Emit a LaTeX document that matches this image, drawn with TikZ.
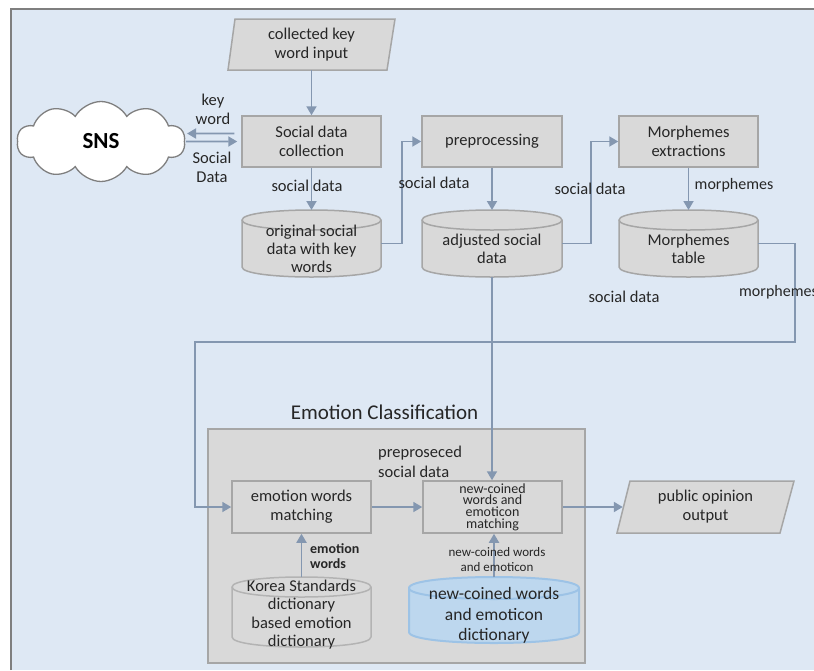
\documentclass[tikz,border=0pt]{standalone}
\usepackage{fontspec}
\setmainfont{Carlito}
\usetikzlibrary{shapes.symbols,arrows.meta,calc}
\definecolor{bg}{HTML}{DEE8F4}
\definecolor{frm}{HTML}{7F7F7F}
\definecolor{boxf}{HTML}{D9D9D9}
\definecolor{boxd}{HTML}{A6A6A6}
\definecolor{arrc}{HTML}{8497B0}
\definecolor{txt}{HTML}{262626}
\definecolor{bluef}{HTML}{BDD7EE}
\definecolor{blued}{HTML}{9DC3E6}
\newcommand\fmain{\fontsize{16.5}{19}\selectfont}
\newcommand\dbcyl[6]{%
\pgfmathsetmacro\cyLx{#2-#5/2}%
\pgfmathsetmacro\cyRx{#2+#5/2}%
\pgfmathsetmacro\cyA{#3+#6}%
\pgfmathsetmacro\cyB{#4-#6}%
\pgfmathsetmacro\cyAu{#3+#6-4/3*#6}%
\pgfmathsetmacro\cyAd{#3+#6+4/3*#6}%
\pgfmathsetmacro\cyBd{#4-#6+4/3*#6}%
\pgfmathsetmacro\cyM{(#3+#4)/2}%
\pgfmathsetmacro\cyH{#4-#3}%
}
\begin{document}
\begin{tikzpicture}[x=1pt,y=-1pt,
  proc/.style={draw=boxd, fill=boxf, line width=1.5pt, minimum width=139pt, minimum height=51pt, inner sep=0pt, text=txt, align=center, font=\fmain},
  lbl/.style={text=txt, font=\fmain, align=center, inner sep=0pt},
  ghost/.style={inner sep=0pt, outer sep=0pt},
  pg/.style={draw=boxd, fill=boxf, line width=1.5pt},
  cylg/.style={draw=boxd, fill=boxf, line width=1.5pt},
  arr/.style={draw=arrc, line width=1.8pt, -{Triangle[length=9pt,width=10pt]}},
  ln/.style={draw=arrc, line width=1.8pt}
]
\useasboundingbox (0,0) rectangle (814,670);
\fill[bg] (11,9) rectangle (814,670);
\draw[frm, line width=2pt] (11,670) -- (11,9) -- (814,9);

% input parallelogram
\draw[pg] (235,19) -- (395,19) -- (387,70) -- (228,70) -- cycle;
\node[lbl, minimum width=150pt, minimum height=51pt] (inp) at (311.5,44.5) {collected key\\word input};

% cloud
\node[cloud, cloud puffs=10, cloud puff arc=120, aspect=2.1, minimum width=168pt, minimum height=80pt, fill=white, draw=frm, line width=1.3pt, inner sep=0pt, font=\bfseries\fontsize{23}{26}\selectfont, text=black] (sns) at (101,141.5) {SNS};

% process boxes
\node[proc] (sdc) at (311.5,141.5) {Social data\\collection};
\node[proc, minimum width=140pt] (prep) at (492,141.5) {preprocessing};
\node[proc] (morph) at (688.5,141.5) {Morphemes\\extractions};

% cylinders top row
\dbcyl{cyl1}{311.5}{210}{277}{139}{10}
\path[cylg] (\cyLx,\cyA) -- (\cyLx,\cyB) .. controls (\cyLx,\cyBd) and (\cyRx,\cyBd) .. (\cyRx,\cyB) -- (\cyRx,\cyA) .. controls (\cyRx,\cyAu) and (\cyLx,\cyAu) .. (\cyLx,\cyA) -- cycle;
\path[cylg, fill=none] (\cyLx,\cyA) .. controls (\cyLx,\cyAd) and (\cyRx,\cyAd) .. (\cyRx,\cyA);
\node[ghost, minimum width=139pt, minimum height=\cyH pt] (cyl1) at (311.5,\cyM) {};
\node[lbl, font=\fontsize{16.5}{18}\selectfont] (cyl1t) at (311.5,249) {original social\\data with key\\words};

\dbcyl{cyl2}{492}{210}{277}{140}{10}
\path[cylg] (\cyLx,\cyA) -- (\cyLx,\cyB) .. controls (\cyLx,\cyBd) and (\cyRx,\cyBd) .. (\cyRx,\cyB) -- (\cyRx,\cyA) .. controls (\cyRx,\cyAu) and (\cyLx,\cyAu) .. (\cyLx,\cyA) -- cycle;
\path[cylg, fill=none] (\cyLx,\cyA) .. controls (\cyLx,\cyAd) and (\cyRx,\cyAd) .. (\cyRx,\cyA);
\node[ghost, minimum width=140pt, minimum height=\cyH pt] (cyl2) at (492,\cyM) {};
\node[lbl, font=\fontsize{16.5}{18}\selectfont] (cyl2t) at (492,249) {adjusted social\\data};

\dbcyl{cyl3}{688.5}{210}{277}{139}{10}
\path[cylg] (\cyLx,\cyA) -- (\cyLx,\cyB) .. controls (\cyLx,\cyBd) and (\cyRx,\cyBd) .. (\cyRx,\cyB) -- (\cyRx,\cyA) .. controls (\cyRx,\cyAu) and (\cyLx,\cyAu) .. (\cyLx,\cyA) -- cycle;
\path[cylg, fill=none] (\cyLx,\cyA) .. controls (\cyLx,\cyAd) and (\cyRx,\cyAd) .. (\cyRx,\cyA);
\node[ghost, minimum width=139pt, minimum height=\cyH pt] (cyl3) at (688.5,\cyM) {};
\node[lbl, font=\fontsize{16.5}{18}\selectfont] (cyl3t) at (688.5,249) {Morphemes\\table};

% group
\node[draw=boxd, fill=boxf, line width=2pt, minimum width=377pt, minimum height=234pt, inner sep=0pt] (grp) at (396.5,546) {};
\node[lbl, font=\fontsize{21}{24}\selectfont] (grpt) at (384.5,412) {Emotion Classification};

% inner boxes
\node[proc, minimum height=52pt] (ewm) at (301.5,507) {emotion words\\matching};
\node[proc, minimum height=52pt, minimum width=139pt, font=\fontsize{14}{11.7}\selectfont] (ncm) at (492.5,507) {new-coined\\words and\\emoticon\\matching};

% public opinion
\draw[pg] (630,481) -- (794,481) -- (780,533) -- (617,533) -- cycle;
\node[lbl, minimum width=165pt, minimum height=52pt] (pub) at (705.5,507) {public opinion\\output};

% Korea cylinder
\dbcyl{kor}{301.5}{577}{647}{139}{10}
\path[draw=boxd!85, line width=1.5pt] (\cyLx,\cyA) -- (\cyLx,\cyB) .. controls (\cyLx,\cyBd) and (\cyRx,\cyBd) .. (\cyRx,\cyB) -- (\cyRx,\cyA) .. controls (\cyRx,\cyAu) and (\cyLx,\cyAu) .. (\cyLx,\cyA) -- cycle;
\path[draw=boxd!85, line width=1.5pt] (\cyLx,\cyA) .. controls (\cyLx,\cyAd) and (\cyRx,\cyAd) .. (\cyRx,\cyA);
\node[ghost, minimum width=139pt, minimum height=\cyH pt] (kor) at (301.5,\cyM) {};
\node[lbl, font=\fontsize{16.5}{18.3}\selectfont] (kort) at (301.5,614.5) {Korea Standards\\dictionary\\based emotion\\dictionary};

% blue cylinder
\dbcyl{blu}{494}{577}{643}{170}{11}
\path[draw=blued, fill=bluef, line width=2pt] (\cyLx,\cyA) -- (\cyLx,\cyB) .. controls (\cyLx,\cyBd) and (\cyRx,\cyBd) .. (\cyRx,\cyB) -- (\cyRx,\cyA) .. controls (\cyRx,\cyAu) and (\cyLx,\cyAu) .. (\cyLx,\cyA) -- cycle;
\path[draw=blued, line width=2pt] (\cyLx,\cyA) .. controls (\cyLx,\cyAd) and (\cyRx,\cyAd) .. (\cyRx,\cyA);
\node[ghost, minimum width=170pt, minimum height=\cyH pt] (blu) at (494,\cyM) {};
\node[lbl, font=\fontsize{17.5}{20.5}\selectfont] (blut) at (494,615.5) {new-coined words\\and emoticon\\dictionary};

% coordinates
\coordinate (c1) at (795,342);
\coordinate (c2) at (195,342);

% connectors
\draw[arr] (inp.south) -- (sdc.north);
\draw[arr] ([xshift=-7pt,yshift=8pt]sdc.west) -- ([xshift=2pt,yshift=8pt]sns.east);
\draw[arr] ([xshift=1pt]sns.east) -- ([xshift=-4pt]sdc.west);
\draw[arr] (sdc.south) -- (cyl1.north);
\draw[arr] (cyl1.east) -- ++(21,0) |- (prep.west);
\draw[arr] (prep.south) -- (cyl2.north);
\draw[arr] (cyl2.east) -- ++(29,0) |- (morph.west);
\draw[arr] (morph.south) -- (cyl3.north);
\draw[arr] (cyl3.east) -| (c1) -- (c2) |- (ewm.west);
\draw[arr] (cyl2.south) -- (cyl2.south |- ncm.north);
\draw[arr] (ewm.east) -- (ncm.west);
\draw[arr] (ncm.east) -- (pub.west);
\draw[arr] (kor.north) -- (ewm.south);
\draw[arr] (blu.north) -- (blu.north |- ncm.south);

% labels
\node[lbl] (lkw) at (213,109) {key\\word};
\node[lbl] (lsd) at (212,167) {Social\\Data};
\node[lbl] (l1) at (307,186) {social data};
\node[lbl] (l2) at (434,183) {social data};
\node[lbl] (l3) at (590,189) {social data};
\node[lbl, font=\fontsize{16}{19}\selectfont] (l4) at (734,185) {morphemes};
\node[lbl] (l5) at (624,297) {social data};
\node[lbl, font=\fontsize{16}{19}\selectfont, anchor=west] (l6) at (739,292) {morphemes};
\node[lbl, align=left, anchor=west, font=\fontsize{16.5}{20}\selectfont] (l7) at (378,462) {preproseced\\social data};
\node[lbl, align=left, anchor=west, font=\bfseries\fontsize{14}{15}\selectfont] (l8) at (310,556.5) {emotion\\words};
\node[lbl, font=\fontsize{13}{15}\selectfont] (l9) at (497,559.5) {new-coined words\\and emoticon};
\end{tikzpicture}
\end{document}
